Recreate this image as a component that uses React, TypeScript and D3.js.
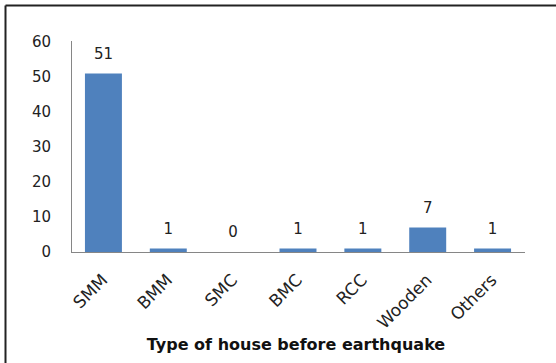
import React from "react";
import * as d3 from "d3";

const categories = ["SMM", "BMM", "SMC", "BMC", "RCC", "Wooden", "Others"];
const counts = [51, 1, 0, 1, 1, 7, 1];
const yTicks = [0, 10, 20, 30, 40, 50, 60];
const xTitle = "Type of house before earthquake";

const W = 556;
const H = 363;
const FONT = "'DejaVu Sans', 'Open Sans', sans-serif";

export default function App() {
  const left = 71;
  const right = 525;
  const top = 42;
  const bottom = 252;

  const x = d3.scaleBand<string>().domain(categories).range([left, right]).paddingInner(0.43).paddingOuter(0.215);
  const y = d3.scaleLinear().domain([0, 60]).range([bottom, top]);

  return (
    <svg
      width={W}
      height={H}
      style={{ position: "absolute", left: 0, top: 0, background: "#fff" }}
      fontFamily={FONT}
    >
      <rect x={0} y={0} width={W} height={H} fill="#fff" />
      {/* frame edges */}
      <line x1={5.5} y1={5.5} x2={W} y2={5.5} stroke="#222" strokeWidth={2} />
      <line x1={5.5} y1={5.5} x2={5.5} y2={H} stroke="#222" strokeWidth={2} />

      {/* y axis */}
      <line x1={left + 0.5} y1={top - 1} x2={left + 0.5} y2={bottom} stroke="#868686" strokeWidth={1} />
      {yTicks.map((t) => (
        <text key={t} x={51} y={y(t)} dy="0.36em" textAnchor="end" fontSize={15} fill="#222">
          {t}
        </text>
      ))}

      {/* bars */}
      {categories.map((c, i) => (
        <rect
          key={c}
          x={x(c)}
          y={y(counts[i])}
          width={x.bandwidth()}
          height={bottom - y(counts[i])}
          fill="#4F81BD"
        />
      ))}

      {/* x axis */}
      <line x1={left} y1={bottom + 0.5} x2={right} y2={bottom + 0.5} stroke="#868686" strokeWidth={1} />

      {/* value labels */}
      {categories.map((c, i) => (
        <text
          key={c}
          x={(x(c) as number) + x.bandwidth() / 2}
          y={y(counts[i]) - 15}
          textAnchor="middle"
          fontSize={15}
          fill="#222"
        >
          {counts[i]}
        </text>
      ))}

      {/* category labels */}
      {categories.map((c) => {
        const cx = (x(c) as number) + x.bandwidth() / 2 + 1;
        const cy = bottom + 25;
        return (
          <text
            key={c}
            transform={`translate(${cx},${cy}) rotate(-45)`}
            textAnchor="end"
            dy="0.35em"
            fontSize={17}
            fill="#222"
          >
            {c}
          </text>
        );
      })}

      <text x={296} y={350} textAnchor="middle" fontSize={16} fontWeight="bold" fill="#111">
        {xTitle}
      </text>
    </svg>
  );
}
